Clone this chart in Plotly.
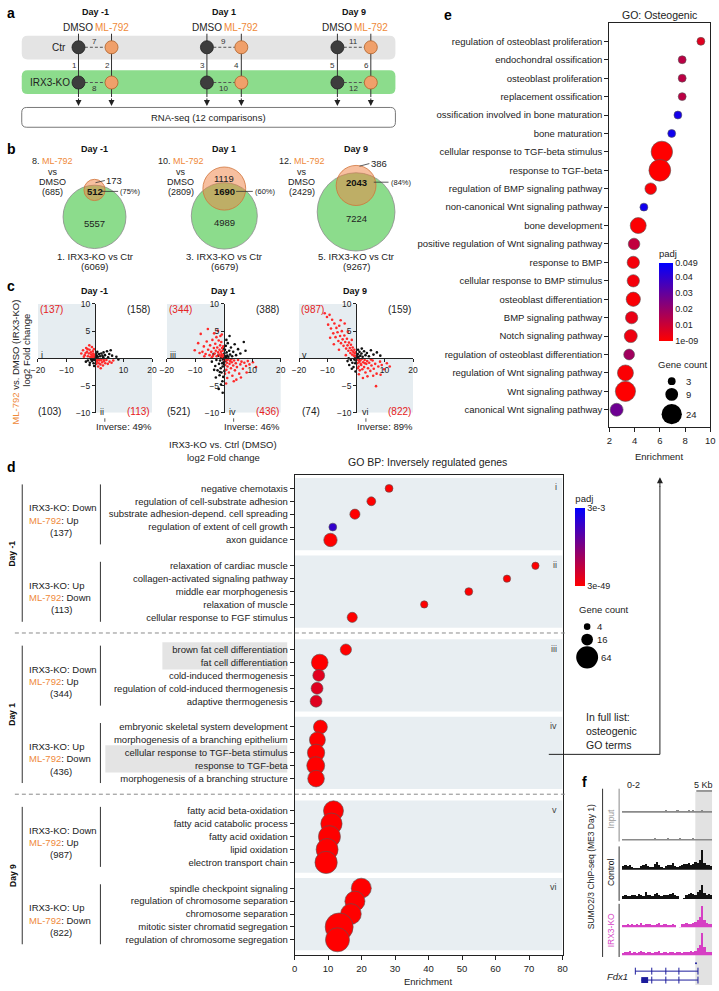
import math
import plotly.graph_objects as go

W, H = 719, 991
FONT = "Liberation Sans, Arial, sans-serif"
ORANGE = "#ef8a3a"
REDTXT = "#e52222"

# ---------------- data ----------------
days = ["Day -1", "Day 1", "Day 9"]
# panel a : comparison numbers
ctr_comp = ["7", "9", "11"]
ko_row_comp = ["8", "10", "12"]
vert_comp = [("1", "2"), ("3", "4"), ("5", "6")]
# panel b : Venn counts
ko_total = [6069, 6679, 9267]
ml_total = [685, 2809, 2429]
overlap = [512, 1690, 2043]
ko_only = [5557, 4989, 7224]
ml_only = [173, 1119, 386]
overlap_pct = [75, 60, 84]
ml_idx = [8, 10, 12]
ko_idx = [1, 3, 5]
# panel c : quadrant counts
quad_ul = [137, 344, 987]
quad_ur = [158, 388, 159]
quad_ll = [103, 521, 74]
quad_lr = [113, 436, 822]
inverse_pct = [49, 46, 89]
roman_c = [("i", "ii"), ("iii", "iv"), ("v", "vi")]

c_red = [
    [(-4.8, 0.9), (-4.2, 1.5), (-3.6, 0.6), (-3.1, 1.9), (-2.8, 1.2), (-2.5, 0.4), (-2.2, 0.9), (-1.9, 1.6),
     (-1.7, 0.3), (-1.5, 1.1), (-1.3, 0.7), (-1.1, 2.1), (-0.9, 0.5), (-0.8, 1.3), (-0.6, 0.9), (-0.5, 0.3),
     (-0.4, 1.7), (-0.3, 0.6), (-3.9, 0.3), (-2.0, 2.4), (-1.2, 0.2), (-0.7, 0.2), (-2.6, 1.7), (-3.3, 1.0),
     (0.4, -0.3), (0.7, -0.6), (1.0, -0.2), (1.3, -0.9), (1.6, -0.4), (1.9, -1.1), (2.2, -0.3), (2.5, -0.7),
     (2.8, -1.3), (3.2, -0.5), (3.6, -0.9), (4.0, -0.3), (4.5, -1.0), (5.1, -0.6), (5.8, -0.8), (6.4, -0.4),
     (1.1, -1.5), (0.5, -1.0), (2.0, -1.8), (3.0, -0.2), (0.9, -0.35), (1.5, -0.15)],
    [(-10.2, 1.5), (-9.0, 2.8), (-8.1, 4.5), (-7.5, 1.2), (-7.0, 2.2), (-6.4, 0.8), (-6.0, 3.1), (-5.6, 5.4),
     (-5.5, 1.6), (-5.0, 0.6), (-4.8, 2.4), (-4.4, 1.2), (-4.0, 3.4), (-3.8, 0.5), (-3.5, 1.9), (-3.2, 0.9),
     (-3.0, 2.7), (-2.8, 1.4), (-2.5, 0.4), (-2.3, 2.0), (-2.1, 5.1), (-2.0, 1.1), (-1.8, 3.3), (-1.6, 0.7),
     (-1.5, 1.6), (-1.3, 2.4), (-1.1, 0.4), (-1.0, 1.2), (-0.9, 3.0), (-0.8, 0.8), (-0.6, 1.9), (-0.5, 0.3),
     (-0.4, 1.4), (-0.3, 0.6), (-0.2, 2.2), (-1.2, 4.1), (-2.6, 3.9), (-4.2, 0.2), (-6.8, 0.4), (-3.4, 4.6),
     (-0.7, 4.4), (-8.5, 1.0),
     (0.3, -0.4), (0.5, -1.2), (0.7, -0.3), (0.9, -2.1), (1.1, -0.8), (1.3, -1.5), (1.5, -0.2), (1.8, -2.6),
     (2.0, -1.0), (2.2, -0.5), (2.5, -1.8), (2.8, -0.7), (3.0, -3.2), (3.3, -1.3), (3.6, -0.4), (3.9, -2.2),
     (4.2, -0.9), (4.6, -1.6), (5.0, -0.3), (5.4, -2.8), (5.8, -1.1), (6.2, -0.6), (6.7, -1.9), (7.2, -0.8),
     (7.8, -1.4), (8.4, -0.5), (9.0, -1.1), (10.2, -0.7), (11.3, -1.6), (3.5, -4.2), (6.0, -3.5), (1.2, -3.6),
     (0.4, -2.8), (2.6, -0.15), (4.4, -3.9), (8.0, -2.6), (0.8, -4.6)],
    [(-11.0, 8.3), (-10.2, 7.6), (-9.8, 6.2), (-9.3, 8.0), (-8.8, 5.5), (-8.4, 7.1), (-8.0, 4.6), (-7.6, 6.4),
     (-7.2, 3.9), (-6.9, 5.6), (-6.5, 4.8), (-6.2, 3.2), (-5.9, 6.0), (-5.6, 4.1), (-5.3, 2.8), (-5.0, 5.0),
     (-4.7, 3.5), (-4.4, 2.3), (-4.1, 4.2), (-3.8, 3.0), (-3.5, 1.8), (-3.2, 3.6), (-3.0, 2.4), (-2.7, 1.4),
     (-2.5, 2.9), (-2.2, 1.9), (-2.0, 1.0), (-1.8, 2.5), (-1.6, 1.5), (-1.4, 0.7), (-1.2, 2.0), (-1.0, 1.2),
     (-0.8, 0.5), (-0.6, 1.6), (-0.5, 0.9), (-0.3, 0.4), (-0.2, 1.1), (-7.8, 2.6), (-4.0, 6.4), (-2.9, 4.9),
     (-6.0, 1.6), (-9.1, 3.8), (-1.5, 3.4), (-3.6, 0.6), (-5.4, 7.0),
     (0.3, -0.3), (0.5, -0.9), (0.7, -0.2), (0.9, -1.5), (1.1, -0.6), (1.3, -2.2), (1.5, -0.4), (1.8, -1.2),
     (2.0, -0.1), (2.2, -2.0), (2.5, -0.7), (2.8, -1.6), (3.0, -0.3), (3.3, -2.6), (3.6, -1.0), (3.9, -0.5),
     (4.2, -1.8), (4.6, -0.8), (5.0, -2.3), (5.4, -1.3), (5.8, -0.4), (6.2, -1.9), (6.7, -1.0), (7.2, -2.8),
     (7.8, -1.5), (8.4, -0.6), (9.0, -1.2), (9.8, -2.0), (10.8, -0.9), (11.8, -1.5), (7.0, -5.1), (4.0, -3.3),
     (1.0, -2.9), (2.4, -3.6), (6.0, -3.2), (0.6, -1.8), (3.1, -0.9), (8.6, -3.0), (5.2, -0.2), (1.6, -1.0)],
]
c_black = [
    [(-2.5, -0.4), (-1.8, -0.8), (-1.0, -0.5), (-0.5, -0.9), (-0.2, -0.3), (0.3, 0.2), (0.6, 0.5), (1.0, 0.3),
     (1.4, 0.8), (1.8, 0.4), (2.2, 0.9), (2.6, 0.5), (3.0, 1.1), (3.5, 0.6), (4.2, 1.3), (5.0, 0.8), (6.0, 0.5),
     (7.5, 0.3), (8.2, -0.2), (0.1, -0.1), (-0.1, 0.1), (0.2, 0.6), (0.5, -0.1), (-0.4, -0.2), (-1.4, -0.2),
     (0.8, 1.2), (1.2, -0.1), (-3.2, -0.6), (0.0, 0.4), (0.4, 0.9), (-0.7, -0.1), (2.9, 0.2), (-1.9, -1.2),
     (-0.3, -1.4), (5.5, 1.5), (4.6, 0.2)],
    [(-4.2, -0.6), (-3.6, 0.8), (-3.0, -1.4), (-2.6, -0.3), (-2.2, -2.2), (-2.0, 0.5), (-1.7, -1.0), (-1.5, -3.1),
     (-1.3, -0.4), (-1.1, -1.8), (-0.9, 0.2), (-0.8, -2.6), (-0.6, -0.9), (-0.5, -4.2), (-0.4, -1.5), (-0.3, -0.2),
     (-0.2, -3.4), (-0.1, -0.7), (0.0, 0.1), (0.1, -1.1), (0.2, 0.9), (0.3, -0.1), (0.4, 1.6), (0.5, 0.4),
     (0.7, 2.3), (0.8, 0.2), (1.0, 1.1), (1.2, 0.5), (1.4, 2.8), (1.6, 0.3), (1.9, 1.4), (2.2, 0.7), (2.5, 2.0),
     (2.9, 0.4), (3.3, 1.2), (3.8, 2.6), (4.3, 0.6), (5.0, 1.7), (5.8, 0.9), (7.0, 3.0), (7.6, 1.4), (-1.0, -4.8),
     (-1.8, -5.6), (-0.4, -6.3), (0.6, -0.5), (-0.7, 0.6), (0.2, -2.3), (-2.8, -3.5), (-3.4, -2.1), (1.1, -0.2),
     (-0.2, 1.8), (0.9, 3.4), (2.0, 4.1), (-1.4, -2.5)],
    [(-3.0, -0.5), (-2.4, -1.2), (-1.8, -0.3), (-1.3, -0.8), (-0.9, -1.6), (-0.6, -0.2), (-0.3, -0.9), (0.0, 0.1),
     (0.2, 0.5), (0.4, -0.1), (0.6, 0.8), (0.9, 0.3), (1.2, 1.2), (1.5, 0.5), (1.9, 0.9), (2.3, 0.3), (2.8, 1.3),
     (3.3, 0.6), (3.8, 1.0), (4.5, 0.4), (5.2, 1.5), (6.1, 0.7), (7.3, 1.1), (8.5, 0.5), (-0.1, -0.4), (0.3, 0.2),
     (-0.4, 0.3), (1.0, -0.2), (-1.5, -1.9), (-0.2, -2.4), (2.0, 1.8), (-2.6, 0.0), (0.7, 1.6)],
]

# panel d : GO BP inversely regulated genes
d_terms = [
    "negative chemotaxis", "regulation of cell-substrate adhesion", "substrate adhesion-depend. cell spreading",
    "regulation of extent of cell growth", "axon guidance",
    "relaxation of cardiac muscle", "collagen-activated signaling pathway", "middle ear morphogenesis",
    "relaxation of muscle", "cellular response to FGF stimulus",
    "brown fat cell differentiation", "fat cell differentiation", "cold-induced thermogenesis",
    "regulation of cold-induced thermogenesis", "adaptive thermogenesis",
    "embryonic skeletal system development", "morphogenesis of a branching epithelium",
    "cellular response to TGF-beta stimulus", "response to TGF-beta", "morphogenesis of a branching structure",
    "fatty acid beta-oxidation", "fatty acid catabolic process", "fatty acid oxidation", "lipid oxidation",
    "electron transport chain",
    "spindle checkpoint signaling", "regulation of chromosome separation", "chromosome separation",
    "mitotic sister chromatid segregation", "regulation of chromosome segregation",
]
d_enrich = [28.2, 22.9, 18.0, 11.4, 10.7, 71.9, 63.4, 52.0, 38.7, 17.2,
            15.3, 7.5, 7.2, 6.7, 6.4, 7.7, 6.8, 6.4, 6.3, 6.4,
            11.6, 11.0, 10.4, 9.7, 9.4, 19.9, 18.0, 16.8, 13.3, 12.8]
d_count = [6, 8, 11, 6, 21, 5, 5, 6, 5, 11,
           14, 34, 16, 16, 16, 23, 31, 37, 40, 34,
           51, 58, 62, 62, 64, 51, 51, 55, 104, 75]
d_padj = [1e-6, 1e-6, 1e-7, 2.4e-3, 1e-9, 1e-5, 1e-5, 1e-5, 1e-5, 1e-8,
          1e-6, 1e-20, 3.5e-4, 3.8e-4, 3.6e-4, 1e-12, 1e-15, 1e-18, 1e-18, 1e-15,
          1e-30, 1e-32, 1e-35, 1e-35, 1e-40, 1e-30, 1e-32, 1e-33, 3e-49, 1e-45]
d_group_start = [0, 6, 12.5, 18.5, 25, 31]
d_group_dir = [("Down", "Up"), ("Up", "Down"), ("Down", "Up"), ("Up", "Down"), ("Down", "Up"), ("Up", "Down")]
d_group_n = [137, 113, 344, 436, 987, 822]
d_roman = ["i", "ii", "iii", "iv", "v", "vi"]
d_highlight = [(10, 11, 158), (17, 18, 100)]
d_legend_counts = [4, 16, 64]

# panel e : GO osteogenic
e_terms = ["regulation of osteoblast proliferation", "endochondral ossification", "osteoblast proliferation",
           "replacement ossification", "ossification involved in bone maturation", "bone maturation",
           "cellular response to TGF-beta stimulus", "response to TGF-beta", "regulation of BMP signaling pathway",
           "non-canonical Wnt signaling pathway", "bone development", "positive regulation of Wnt signaling pathway",
           "response to BMP", "cellular response to BMP stimulus", "osteoblast differentiation",
           "BMP signaling pathway", "Notch signaling pathway", "regulation of osteoblast differentiation",
           "regulation of Wnt signaling pathway", "Wnt signaling pathway", "canonical Wnt signaling pathway"]
e_enrich = [9.25, 7.77, 7.77, 7.77, 7.43, 6.94, 6.16, 6.0, 5.28, 4.74, 4.29, 3.96,
            3.9, 3.9, 3.9, 3.77, 3.7, 3.57, 3.28, 3.28, 2.58]
e_count = [3, 3, 3, 3, 3, 3, 26, 27, 7, 3, 14, 7, 8, 8, 11, 8, 9, 6, 14, 23, 9]
e_padj = [0.006, 0.013, 0.013, 0.013, 0.045, 0.046, 1e-9, 1e-9, 0.001, 0.046, 0.0005, 0.012,
          0.002, 0.002, 0.001, 0.004, 0.003, 0.018, 0.0008, 0.0002, 0.028]
e_legend_counts = [3, 9, 24]
e_cbar_ticks = [0.049, 0.04, 0.03, 0.02, 0.01, 1e-9]
e_cbar_text = ["0.049", "0.04", "0.03", "0.02", "0.01", "1e-09"]

# panel f : SUMO2/3 ChIP-seq tracks at Fdx1 (signal, 0-2 scale)
input1 = [0.10, 0.12, 0.08, 0.14, 0.10, 0.09, 0.13, 0.10, 0.16, 0.11, 0.09, 0.14, 0.12, 0.18, 0.10, 0.12, 0.09, 0.11, 0.15, 0.22,
          0.10, 0.12, 0.10, 0.16, 0.20, 0.12, 0.14, 0.10, 0.12, 0.20, 0.15, 0.26, 0.12, 0.10, 0.15, 0.20, 0.12, 0.10, 0.15, 0.11]
input2 = [0.08, 0.10, 0.12, 0.09, 0.11, 0.14, 0.10, 0.09, 0.12, 0.15, 0.18, 0.11, 0.10, 0.13, 0.22, 0.12, 0.10, 0.14, 0.11, 0.16,
          0.24, 0.13, 0.12, 0.10, 0.15, 0.20, 0.18, 0.12, 0.14, 0.16, 0.12, 0.22, 0.14, 0.10, 0.12, 0.18, 0.13, 0.11, 0.14, 0.10]
control1 = [0.30, 0.42, 0.28, 0.36, 0.22, 0.15, 0.10, 0.12, 0.32, 0.38, 0.48, 0.30, 0.22, 0.26, 0.46, 0.62, 0.36, 0.20, 0.12, 0.30,
            0.42, 0.36, 0.52, 0.30, 0.26, 0.34, 0.40, 0.46, 0.50, 0.56, 0.42, 0.48, 0.62, 0.54, 0.80, 1.62, 0.52, 0.36, 0.42, 0.30]
control2 = [0.22, 0.30, 0.26, 0.20, 0.32, 0.28, 0.24, 0.36, 0.30, 0.26, 0.55, 0.34, 0.28, 0.24, 0.40, 0.46, 0.30, 0.26, 0.34, 0.30,
            0.28, 0.38, 0.44, 0.32, 0.26, 0.00, 0.00, 0.05, 0.30, 0.36, 0.46, 0.40, 0.34, 0.52, 0.70, 1.10, 0.46, 0.32, 0.38, 0.28]
ko1 = [0.26, 0.20, 0.30, 0.24, 0.34, 0.22, 0.28, 0.26, 0.36, 0.24, 0.30, 0.28, 0.34, 0.26, 0.22, 0.30, 0.38, 0.24, 0.28, 0.32,
       0.26, 0.22, 0.30, 0.26, 0.00, 0.05, 0.28, 0.32, 0.36, 0.30, 0.34, 0.40, 0.50, 0.62, 0.90, 1.72, 0.60, 0.40, 0.34, 0.30]
ko2 = [0.24, 0.32, 0.28, 0.36, 0.22, 0.30, 0.26, 0.34, 0.40, 0.28, 0.24, 0.32, 0.30, 0.26, 0.34, 0.28, 0.36, 0.24, 0.30, 0.28,
       0.26, 0.34, 0.30, 0.26, 0.30, 0.28, 0.24, 0.32, 0.30, 0.28, 0.36, 0.30, 0.42, 0.60, 0.90, 1.80, 0.68, 0.34, 0.30, 0.28]
tracks = [input1, input2, control1, control2, ko1, ko2]
track_colors = ["#8a8a8a", "#8a8a8a", "#111111", "#111111", "#d63fc4", "#d63fc4"]

# ---------------- helpers ----------------
def X(px):
    return px / W


def Y(py):
    return 1 - py / H


shapes, annos = [], []


def txt(x, y, s, size=9.5, color="#222", xa="center", ya="middle", bold=False, italic=False, angle=0):
    if bold:
        s = "<b>" + s + "</b>"
    if italic:
        s = "<i>" + s + "</i>"
    annos.append(dict(x=X(x), y=Y(y), xref="paper", yref="paper", text=s, showarrow=False,
                      xanchor=xa, yanchor=ya, textangle=angle, borderpad=0,
                      font=dict(size=size, color=color, family=FONT)))


def line(x0, y0, x1, y1, color="#333", width=1, dash=None, layer="above"):
    shapes.append(dict(type="line", xref="paper", yref="paper", x0=X(x0), y0=Y(y0), x1=X(x1), y1=Y(y1),
                       line=dict(color=color, width=width, dash=dash), layer=layer))


def rect(x0, y0, x1, y1, fill, lc=None, lw=0, layer="below"):
    shapes.append(dict(type="rect", xref="paper", yref="paper", x0=X(x0), y0=Y(y1), x1=X(x1), y1=Y(y0),
                       fillcolor=fill, line=dict(color=lc or fill, width=lw), layer=layer))


def circle(cx, cy, r, fill, lc, lw=0.8, opacity=1.0, layer="above"):
    shapes.append(dict(type="circle", xref="paper", yref="paper", x0=X(cx - r), x1=X(cx + r),
                       y0=Y(cy + r), y1=Y(cy - r), fillcolor=fill, opacity=opacity,
                       line=dict(color=lc, width=lw), layer=layer))


def rrect(x0, y0, x1, y1, rad, fill, lc, lw=1, layer="below"):
    p = (f"M {X(x0 + rad)},{Y(y0)} L {X(x1 - rad)},{Y(y0)} Q {X(x1)},{Y(y0)} {X(x1)},{Y(y0 + rad)} "
         f"L {X(x1)},{Y(y1 - rad)} Q {X(x1)},{Y(y1)} {X(x1 - rad)},{Y(y1)} "
         f"L {X(x0 + rad)},{Y(y1)} Q {X(x0)},{Y(y1)} {X(x0)},{Y(y1 - rad)} "
         f"L {X(x0)},{Y(y0 + rad)} Q {X(x0)},{Y(y0)} {X(x0 + rad)},{Y(y0)} Z")
    shapes.append(dict(type="path", xref="paper", yref="paper", path=p, fillcolor=fill,
                       line=dict(color=lc, width=lw), layer=layer))


def arrow(x, y, ax, ay, color="#222"):
    annos.append(dict(x=X(x), y=Y(y), xref="paper", yref="paper", ax=ax, ay=ay, text="",
                      showarrow=True, arrowhead=2, arrowsize=1.2, arrowwidth=1, arrowcolor=color, standoff=0))


def orange(s):
    return f"<span style='color:{ORANGE}'>{s}</span>"


fig = go.Figure()
layout = dict(width=W, height=H, margin=dict(l=0, r=0, t=0, b=0, pad=0), paper_bgcolor="white",
              plot_bgcolor="rgba(0,0,0,0)", showlegend=False, bargap=0,
              font=dict(family=FONT, size=9.5, color="#222"))

# ---------------- panel labels ----------------
for lab, (lx, ly) in zip("abcdef", [(4, 8), (5, 145), (4, 284), (5, 467), (448, 10), (587, 785)]):
    txt(lx, ly, lab, size=14, color="#000", bold=True)

# ---------------- panel a ----------------
dark_x = [72.7, 203.3, 336.0]
orng_x = [106.3, 238.3, 370.0]
row_ctr, row_ko = 42.7, 78.3
rrect(15, 31, 395, 55, 6, "#e4e4e4", "#e4e4e4", 0)
rrect(15, 66, 395, 90, 6, "#8cdc8c", "#8cdc8c", 0)
rrect(15, 103.5, 395, 123.5, 5, "white", "#555", 0.8)
txt(205, 113.5, "RNA-seq (12 comparisons)", size=9.5)
txt(61, row_ctr, "Ctr", size=10, xa="right")
txt(65, row_ko, "IRX3-KO", size=10, xa="right")
for k in range(3):
    dx, ox = dark_x[k], orng_x[k]
    txt((dx + ox) / 2, 7.5, days[k], size=9, color="#111", bold=True)
    txt(dx, 22.7, "DMSO", size=10)
    txt(ox, 22.7, orange("ML-792"), size=10)
    for xx in (dx, ox):
        line(xx, 29, xx, 93, color="#333", width=1)
        arrow(xx, 102, 0, -9)
    for ry in (row_ctr, row_ko):
        line(dx + 6.5, ry, ox - 6.5, ry, color="#555", width=1, dash="3px,2px")
    for ry in (row_ctr, row_ko):
        circle(dx, ry, 6.6, "#3d3d3d", "#222", 0.8)
        circle(ox, ry, 6.6, "#f0a06a", "#b0622a", 0.8)
    mid = (dx + ox) / 2
    txt(mid - 1, 37.3, ctr_comp[k], size=8, color="#333")
    txt(mid - 1, 84.0, ko_row_comp[k], size=8, color="#333")
    txt(dx - 4.5, 60.7, vert_comp[k][0], size=8, color="#333")
    txt(ox - 4.5, 60.7, vert_comp[k][1], size=8, color="#333")

# ---------------- panel b (Venn, areas proportional to gene counts) ----------------
def lens(r1, r2, d):
    if d >= r1 + r2:
        return 0.0
    if d <= abs(r1 - r2):
        return math.pi * min(r1, r2) ** 2
    a1 = r1 * r1 * math.acos((d * d + r1 * r1 - r2 * r2) / (2 * d * r1))
    a2 = r2 * r2 * math.acos((d * d + r2 * r2 - r1 * r1) / (2 * d * r2))
    a3 = 0.5 * math.sqrt((-d + r1 + r2) * (d + r1 - r2) * (d - r1 + r2) * (d + r1 + r2))
    return a1 + a2 - a3


def solve_dist(r1, r2, target):
    lo, hi = abs(r1 - r2) + 1e-6, r1 + r2 - 1e-6
    for _ in range(80):
        mid = (lo + hi) / 2
        if lens(r1, r2, mid) > target:
            lo = mid
        else:
            hi = mid
    return (lo + hi) / 2


kpx = 32.0 / math.sqrt(ko_total[0])
venn_cx = [89, 221, 355]
venn_cy = [214, 213, 209]
left_cx = [46.7, 176.7, 300.0]
for k in range(3):
    rg = kpx * math.sqrt(ko_total[k])
    ro = kpx * math.sqrt(ml_total[k])
    dist = solve_dist(rg, ro, overlap[k] * math.pi * kpx * kpx)
    cx, cy = venn_cx[k], venn_cy[k]
    circle(cx, cy, rg, "#8cdc8c", "#8a8a8a", 0.8)
    circle(cx, cy - dist, ro, "#f08040", "#f08040", 0, opacity=0.5)
    circle(cx, cy - dist, ro, "rgba(0,0,0,0)", "#d0743a", 0.8)
    txt(cx, 145, days[k], size=9, color="#111", bold=True)
    lx = left_cx[k]
    txt(lx, 158.0, f"{ml_idx[k]}. " + orange("ML-792"), size=9)
    txt(lx, 168.3, "vs", size=9)
    txt(lx, 178.6, "DMSO", size=9)
    txt(lx, 189.0, f"({ml_total[k]})", size=9)
    txt(cx, cy + 7, f"{ko_only[k]}", size=9.5)
    txt(cx, 253.7, f"{ko_idx[k]}. IRX3-KO vs Ctr", size=9.5)
    txt(cx, 263.7, f"({ko_total[k]})", size=9.5)
    oy = [188.3, 188.3, 179.0][k]
    txt(cx, oy, f"{overlap[k]}", size=9.5, color="#111", bold=True)
    lx0 = cx + [7.5, 12, 18][k]
    lx1 = cx + [24, 29, 33][k]
    line(lx0, oy, lx1, oy, color="#333", width=0.8)
    txt(lx1 + 1, oy, f"({overlap_pct[k]}%)", size=7.5, xa="left")
# ML-only labels
txt(100, 177.3, f"{ml_only[0]}", size=9.5, xa="left")
line(90, 179.5, 99.5, 177.3, color="#333", width=0.8)
txt(221, 175.7, f"{ml_only[1]}", size=9.5)
txt(369, 160, f"{ml_only[2]}", size=9.5, xa="left")
line(358.5, 162.8, 368.5, 160.2, color="#333", width=0.8)

# ---------------- panel c ----------------
c_cx = [89.5, 220.5, 355.0]
c_half = 58.0
c_top, c_bot, c_zero = 302, 412, 357
for k in range(3):
    n = k + 1
    layout[f"xaxis{n}"] = dict(domain=[X(c_cx[k] - c_half), X(c_cx[k] + c_half)], range=[-20, 20], anchor="free",
                               position=Y(c_zero), showline=True, linecolor="#222", linewidth=1, ticks="outside",
                               ticklen=3, tickcolor="#222", tickvals=[-20, -10, 10, 20], tickfont=dict(size=8.5),
                               showgrid=False, zeroline=False)
    layout[f"yaxis{n}"] = dict(domain=[Y(c_bot), Y(c_top)], range=[-10, 10], anchor="free",
                               position=X(c_cx[k]), showline=True, linecolor="#222", linewidth=1, ticks="outside",
                               ticklen=3, tickcolor="#222", tickvals=[-10, -5, 5, 10], tickfont=dict(size=8.5),
                               showgrid=False, zeroline=False)
    for (qx0, qx1, qy0, qy1) in [(-20, 0, 0, 10), (0, 20, -10, 0)]:
        shapes.append(dict(type="rect", xref=f"x{n}", yref=f"y{n}", x0=qx0, x1=qx1, y0=qy0, y1=qy1,
                           fillcolor="#e6edf1", line=dict(width=0), layer="below"))
    bx, by = zip(*c_black[k])
    rx, ry = zip(*c_red[k])
    fig.add_trace(go.Scatter(x=bx, y=by, mode="markers", xaxis=f"x{n}", yaxis=f"y{n}",
                             marker=dict(size=2.6, color="#111", opacity=1), hoverinfo="skip"))
    fig.add_trace(go.Scatter(x=rx, y=ry, mode="markers", xaxis=f"x{n}", yaxis=f"y{n}",
                             marker=dict(size=2.6, color="#ff2a2a", opacity=1), hoverinfo="skip"))
    cx = c_cx[k]
    txt(cx - 1, 288.7, days[k], size=9, color="#111", bold=True)
    txt(cx - 44.5, 308, f"({quad_ul[k]})", size=10, color=REDTXT)
    txt(cx + 44, 308, f"({quad_ur[k]})", size=10)
    txt(cx - 46, 410.7, f"({quad_ll[k]})", size=10)
    txt(cx + 44, 410.7, f"({quad_lr[k]})", size=10, color=REDTXT)
    txt(cx - 56, 353.5, roman_c[k][0], size=9, xa="left")
    txt(cx + 4.5, 410.7, roman_c[k][1], size=9, xa="left")
    line(cx + 10, 417.5, cx + 10, 421, color="#333", width=0.8)
    txt(cx + 29, 425.7, f"Inverse: {inverse_pct[k]}%", size=9.5)
txt(8.5, 361, orange("ML-792") + " vs. DMSO (IRX3-KO)", size=9.5, angle=-90)
txt(19.5, 349, "log2 Fold change", size=9.5, angle=-90)
txt(220, 444.3, "IRX3-KO vs. Ctrl (DMSO)", size=9.5)
txt(220, 456.7, "log2 Fold change", size=9.5)

# ---------------- panel d ----------------
ROW0, ROWH = 488.3, 13.03


def d_py(row):
    return ROW0 + row * ROWH


d_y = [s + i for s in d_group_start for i in range(5)]
d_top, d_bottom = 475.0, 960.0
layout["xaxis4"] = dict(domain=[X(292.5), X(565)], range=[0, 80], anchor="y4", showline=True, mirror=True,
                        linecolor="#222", linewidth=1, ticks="outside", ticklen=4, tickcolor="#222",
                        tickvals=list(range(0, 81, 10)), tickfont=dict(size=9.5), showgrid=False, zeroline=False)
layout["yaxis4"] = dict(domain=[Y(d_bottom), Y(d_top)],
                        range=[(d_bottom - ROW0) / ROWH, (d_top - ROW0) / ROWH], anchor="x4", showline=True,
                        mirror=True, linecolor="#222", linewidth=1, ticks="outside", ticklen=4, tickcolor="#222",
                        tickvals=d_y, ticktext=d_terms, tickfont=dict(size=9.5), showgrid=False, zeroline=False)
for g, s in enumerate(d_group_start):
    shapes.append(dict(type="rect", xref="x4", yref="y4", x0=0, x1=80, y0=s - 0.8, y1=s + 4.8,
                       fillcolor="#e8eef2", line=dict(width=0), layer="below"))
    txt(560, d_py(s) - 1, d_roman[g], size=9, color="#444", xa="right")
    c = d_py(s + 2)
    up_down = d_group_dir[g]
    txt(21.7, c - 6.3, "IRX3-KO: " + up_down[0], size=9.5, xa="left")
    txt(21.7, c + 6.2, orange("ML-792") + ": " + up_down[1], size=9.5, xa="left")
    txt(55, c + 18.4, f"({d_group_n[g]})", size=9.5)
    line(95, d_py(s) - 4, 95, d_py(s + 4) + 4.5, color="#333", width=1)
for dd in range(3):
    s1 = d_group_start[2 * dd]
    s2 = d_group_start[2 * dd + 1]
    y0, y1 = d_py(s1) - 4, d_py(s2 + 4) + 4.5
    line(15.5, y0, 15.5, y1, color="#333", width=1)
    txt(5.5, (y0 + y1) / 2, days[dd], size=8.5, color="#111", bold=True, angle=-90)
for sep_row in [(d_group_start[1] + 4 + d_group_start[2]) / 2, (d_group_start[3] + 4 + d_group_start[4]) / 2]:
    line(8, d_py(sep_row) - 0.5, 570, d_py(sep_row) - 0.5, color="#8a8a8a", width=1, dash="4px,3px")
for (i0, i1, xl) in d_highlight:
    rect(xl, d_py(d_y[i0]) - 7.5, 285, d_py(d_y[i1]) + 7, "#e4e4e4")


def d_size(c):
    return 2.6 * math.sqrt(c) + 1.5


fig.add_trace(go.Scatter(
    x=d_enrich, y=d_y, mode="markers", xaxis="x4", yaxis="y4", cliponaxis=False, hoverinfo="skip",
    marker=dict(size=[d_size(c) for c in d_count], color=d_padj, cmin=3e-49, cmax=3e-3, opacity=1,
                colorscale=[[0, "#ff0000"], [1, "#0000ff"]], line=dict(color="#555", width=0.6),
                showscale=True,
                colorbar=dict(x=X(578), xanchor="left", y=Y(492), yanchor="top", len=94, lenmode="pixels",
                              thickness=10, xpad=0, ypad=0, outlinewidth=0, ticks="",
                              tickvals=[3e-3, 3e-49], ticktext=["3e-3", "3e-49"], tickfont=dict(size=9),
                              title=dict(text="padj", side="top", font=dict(size=9.5))))))
txt(428, 462, "GO BP: Inversely regulated genes", size=10.5)
txt(428.5, 986, "Enrichment", size=9.5)
txt(607, 611, "Gene count", size=9.5)
for c, ly in zip(d_legend_counts, [628, 641, 659]):
    circle(590, ly, d_size(c) / 2, "#000", "#000", 0)
    txt(599 if c < 64 else 603, ly, str(c), size=9.5, xa="left")
txt(587.7, 719.3, "In full list:", size=10.5, xa="left")
txt(587.7, 733.5, "osteogenic", size=10.5, xa="left")
txt(587.7, 747.7, "GO terms", size=10.5, xa="left")
line(551, 757, 664, 757, color="#222", width=1)
line(664, 757, 664, 486, color="#222", width=1)
arrow(664, 477, 0, 11)

# ---------------- panel e ----------------
E0, EH = 36.7, 18.61
e_y = list(range(len(e_terms)))
e_top, e_bottom = 18.3, 426.7
layout["xaxis5"] = dict(domain=[X(612.5), X(715.3)], range=[2, 10], anchor="y5", showline=True, mirror=True,
                        linecolor="#222", linewidth=1, ticks="outside", ticklen=4, tickcolor="#222",
                        tickvals=[2, 4, 6, 8, 10], tickfont=dict(size=9.5), showgrid=False, zeroline=False)
layout["yaxis5"] = dict(domain=[Y(e_bottom), Y(e_top)], range=[(e_bottom - E0) / EH, (e_top - E0) / EH],
                        anchor="x5", showline=True, mirror=True, linecolor="#222", linewidth=1, ticks="outside",
                        ticklen=4, tickcolor="#222", tickvals=e_y, ticktext=e_terms, tickfont=dict(size=9.5),
                        showgrid=False, zeroline=False)


def e_size(c):
    return 4.0 * math.sqrt(c) + 1.0


fig.add_trace(go.Scatter(
    x=e_enrich, y=e_y, mode="markers", xaxis="x5", yaxis="y5", cliponaxis=False, hoverinfo="skip",
    marker=dict(size=[e_size(c) for c in e_count], color=e_padj, cmin=1e-9, cmax=0.049, opacity=1,
                colorscale=[[0, "#ff0000"], [1, "#0000ff"]], line=dict(color="#555", width=0.6),
                showscale=True,
                colorbar=dict(x=X(663), xanchor="left", y=Y(244), yanchor="top", len=94, lenmode="pixels",
                              thickness=14, xpad=0, ypad=0, outlinewidth=0, ticks="",
                              tickvals=e_cbar_ticks, ticktext=e_cbar_text, tickfont=dict(size=9),
                              title=dict(text="padj", side="top", font=dict(size=9.5))))))
txt(664, 10, "GO: Osteogenic", size=10.5)
txt(663, 455.7, "Enrichment", size=9.5)
txt(686.7, 363.3, "Gene count", size=9.5)
for c, ly in zip(e_legend_counts, [380, 393.3, 413.3]):
    circle(676, ly, e_size(c) / 2, "#000", "#000", 0)
    txt(690, ly, str(c), size=9.5, xa="left")

# ---------------- panel f ----------------
f_base = [816, 844, 873.5, 903.3, 931.7, 960]
f_h = 25
rect(700, 795, 717, 990, "#e2e2e2")
for t in range(6):
    n = 6 + t
    layout[f"xaxis{n}"] = dict(domain=[X(625), X(717)], range=[-0.5, len(tracks[t]) - 0.5], anchor=f"y{n}",
                               visible=False)
    layout[f"yaxis{n}"] = dict(domain=[Y(f_base[t]), Y(f_base[t] - f_h)], range=[0, 2], anchor=f"x{n}",
                               visible=False)
    fig.add_trace(go.Bar(x=list(range(len(tracks[t]))), y=tracks[t], xaxis=f"x{n}", yaxis=f"y{n}",
                         width=1.0, marker=dict(color=track_colors[t], line=dict(width=0)), hoverinfo="skip"))
txt(630, 787.7, "0-2", size=9, xa="left")
txt(708.5, 787.7, "5 Kb", size=9)
line(701, 794, 717, 794, color="#333", width=1)
line(605.7, 791.7, 605.7, 961.7, color="#333", width=1)
line(622.5, 791.7, 622.5, 845, color="#888", width=1)
line(622.5, 850, 622.5, 905, color="#333", width=1)
line(622.5, 908, 622.5, 961.7, color="#333", width=1)
txt(614, 822, "Input", size=8.5, color="#999", angle=-90)
txt(614, 876, "Control", size=8.5, color="#111", angle=-90)
txt(614, 935, "IRX3-KO", size=8.5, color="#d63fc4", angle=-90)
txt(594, 871, "SUMO2/3 ChIP-seq (ME3 Day 1)", size=8.5, angle=-90)
txt(633, 981.7, "Fdx1", size=9.5, xa="right", italic=True)
GENE = "#1c1c9c"
line(639, 976, 702.7, 976, color=GENE, width=1)
line(645, 985, 702.7, 985, color=GENE, width=1)
for xx in [639, 655.7, 670, 683.3, 702.7]:
    line(xx, 972.5, xx, 979.5, color=GENE, width=1)
for xx in [655.7, 670, 683.3, 702.7]:
    line(xx, 981.5, xx, 988.5, color=GENE, width=1)
rect(645, 982, 652, 988, GENE, layer="above")
circle(700.7, 968, 1, GENE, GENE, 0)

layout["shapes"] = shapes
layout["annotations"] = annos
fig.update_layout(**layout)
fig.write_html("out.html", config={"displayModeBar": False},
               post_script="document.body.style.margin='0';document.body.style.overflow='hidden';")
